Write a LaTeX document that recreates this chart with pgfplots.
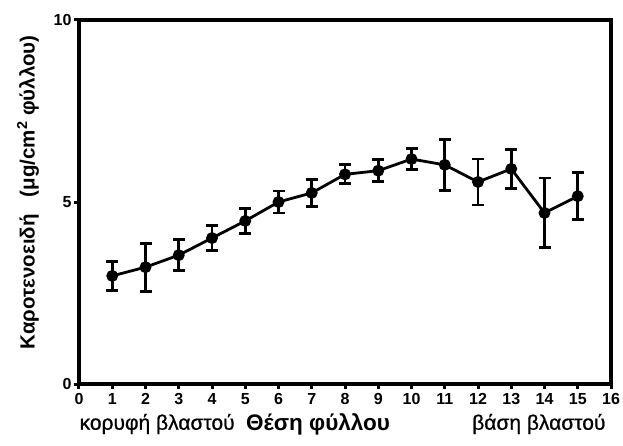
\documentclass[border=0pt]{standalone}
\usepackage{fontspec}
\setmainfont{Liberation Sans}
\newfontfamily\heavier[FakeBold=0.8]{Liberation Sans}
\usepackage{pgfplots}
\pgfplotsset{compat=1.18}

\pgfplotstableread{
pos  val   err
1    2.97  0.40
2    3.21  0.66
3    3.54  0.43
4    4.01  0.34
5    4.48  0.34
6    5.00  0.30
7    5.25  0.37
8    5.76  0.26
9    5.86  0.30
10   6.18  0.28
11   6.02  0.70
12   5.55  0.63
13   5.91  0.53
14   4.70  0.96
15   5.16  0.65
}\carotenoids

\begin{document}
\begin{tikzpicture}
\begin{axis}[
  scale only axis,
  width=532pt, height=364pt,
  xmin=0, xmax=16, ymin=0, ymax=10,
  xtick={0,...,16}, ytick={0,5,10},
  axis line style={line width=4pt, line cap=rect},
  tick style={line width=3pt, black},
  major tick length=5pt,
  tick align=outside,
  xtick pos=bottom, ytick pos=left,
  /pgf/number format/assume math mode=true,
  tick label style={font=\bfseries\fontsize{16}{16}\selectfont},
  xticklabel style={yshift=-1pt},
  yticklabel style={xshift=1pt},
  clip=false,
]
\addplot[black, line width=2.8pt, mark=*, mark size=4.5pt,
  error bars/.cd, y dir=both, y explicit,
  error bar style={line width=2.8pt},
  error mark options={rotate=90, mark size=6pt, line width=2.8pt}]
  table[x=pos, y=val, y error=err] {\carotenoids};
\node[rotate=90, font=\bfseries\fontsize{20.5}{20.5}\selectfont]
  at ([xshift=-51pt]axis cs:0,5.27)
  {Καροτενοειδή\ \ \ (μg/cm\textsuperscript{2} φύλλου)};
\node[font=\heavier\fontsize{21}{21}\selectfont] at ([yshift=-40pt]axis cs:2.35,0)
  {κορυφή βλαστού};
\node[font=\bfseries\fontsize{22.5}{22.5}\selectfont] at ([yshift=-40pt]axis cs:7.19,0)
  {Θέση φύλλου};
\node[font=\heavier\fontsize{21}{21}\selectfont] at ([yshift=-40pt]axis cs:13.83,0)
  {βάση βλαστού};
\coordinate (bl) at (rel axis cs:0,0);
\coordinate (tr) at (rel axis cs:1,1);
\end{axis}
\pgfresetboundingbox
\path ([shift={(-79pt,-61pt)}]bl) rectangle ([shift={(12pt,20pt)}]tr);
\end{tikzpicture}
\end{document}
